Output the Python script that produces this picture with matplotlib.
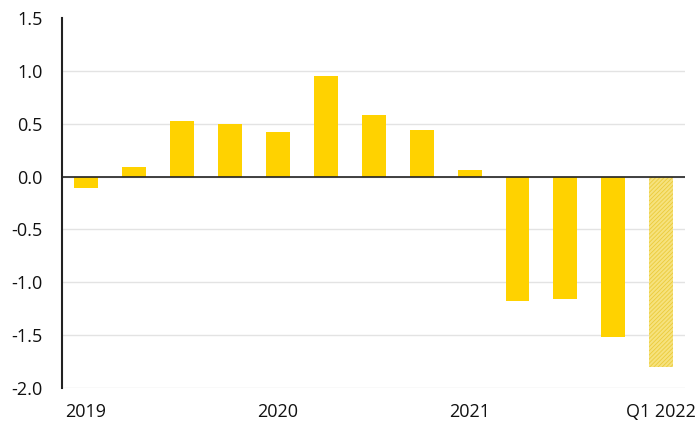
import matplotlib
matplotlib.use("Agg")
import matplotlib.pyplot as plt
import numpy as np

plt.rcParams['font.family'] = ['Open Sans', 'DejaVu Sans']
plt.rcParams['hatch.linewidth'] = 0.6

quarters = ["Q1 2019", "Q2 2019", "Q3 2019", "Q4 2019",
            "Q1 2020", "Q2 2020", "Q3 2020", "Q4 2020",
            "Q1 2021", "Q2 2021", "Q3 2021", "Q4 2021", "Q1 2022"]
values = [-0.11, 0.095, 0.53, 0.50, 0.42, 0.955, 0.58, 0.44, 0.06, -1.18, -1.16, -1.52, -1.80]
forecast = [False] * 12 + [True]
tick_idx = [0, 4, 8, 12]
tick_labels = ["2019", "2020", "2021", "Q1 2022"]
yticks = [-2.0, -1.5, -1.0, -0.5, 0.0, 0.5, 1.0, 1.5]

fig = plt.figure(figsize=(7, 4.45), dpi=100)
ax = fig.add_axes([0.0886, 0.128, 0.8904, 0.8316])

x = np.arange(len(values))
for xi, v, f in zip(x, values, forecast):
    if f:
        ax.bar(xi, v, width=0.5, color='#F6E27E', edgecolor='#EBCB3A',
               hatch='////////', linewidth=0, zorder=3)
    else:
        ax.bar(xi, v, width=0.5, color='#FFD200', linewidth=0, zorder=3)

ax.set_xlim(-0.5, 12.5)
ax.set_ylim(-2.0, 1.5)
ax.set_yticks(yticks)
ax.set_yticklabels([f"{t:.1f}" for t in yticks])
ax.set_xticks(tick_idx)
ax.set_xticklabels(tick_labels)

ax.yaxis.grid(True, color='#E3E3E3', linewidth=1.0, zorder=0)
ax.set_axisbelow(True)
gl = ax.yaxis.get_gridlines()
gl[-1].set_visible(False)

ax.axhline(0, color='#222222', linewidth=1.2, zorder=4)

for s in ['top', 'right', 'bottom']:
    ax.spines[s].set_visible(False)
ax.spines['left'].set_color('#222222')
ax.spines['left'].set_linewidth(1.5)

ax.tick_params(axis='both', length=0, labelsize=13, colors='#111111')
ax.tick_params(axis='y', pad=14)
ax.tick_params(axis='x', pad=11)

fig.savefig("out.png", dpi=100)
